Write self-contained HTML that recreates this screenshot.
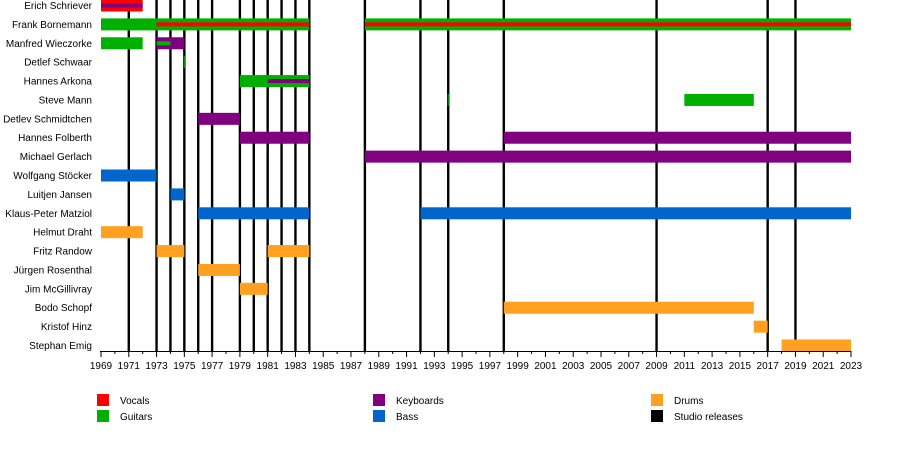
<!DOCTYPE html><html><head><meta charset="utf-8"><style>body{margin:0;background:#fff}svg{display:block;font-family:"Liberation Sans",sans-serif;font-size:10px}</style></head><body>
<svg width="900" height="450" xmlns="http://www.w3.org/2000/svg">
<g id="lines"></g>
<g id="bars"></g>
<g id="labels" text-anchor="end"></g>
<g id="axis"></g>
<g id="legend">
<rect x="97" y="394" width="12" height="12" fill="#ff0000"/><text x="120" y="404">Vocals</text>
<rect x="97" y="410" width="12" height="12" fill="#00b000"/><text x="120" y="420">Guitars</text>
<rect x="373" y="394" width="12" height="12" fill="#800080"/><text x="396" y="404">Keyboards</text>
<rect x="373" y="410" width="12" height="12" fill="#0066cc"/><text x="396" y="420">Bass</text>
<rect x="651" y="394" width="12" height="12" fill="#ffa020"/><text x="674" y="404">Drums</text>
<rect x="651" y="410" width="12" height="12" fill="#000"/><text x="674" y="420">Studio releases</text>
</g>
<script>
const NS="http://www.w3.org/2000/svg";
const X=y=>101+13.889*(y-1969);
function el(p,t,a,txt){const e=document.createElementNS(NS,t);for(const k in a)e.setAttribute(k,a[k]);if(txt)e.textContent=txt;document.getElementById(p).appendChild(e);}
[1971,1973,1974,1975,1976,1977,1979,1980,1981,1982,1983,1984,1988,1992,1994,1998,2009,2017,2019].forEach(y=>el("lines","rect",{x:X(y)-1.2,y:0,width:2.4,height:351,fill:"#000"}));
const C={v:"#ff0000",g:"#00b000",k:"#800080",b:"#0066cc",d:"#ffa020"};
const names=["Erich Schriever","Frank Bornemann","Manfred Wieczorke","Detlef Schwaar","Hannes Arkona","Steve Mann","Detlev Schmidtchen","Hannes Folberth","Michael Gerlach","Wolfgang Stöcker","Luitjen Jansen","Klaus-Peter Matziol","Helmut Draht","Fritz Randow","Jürgen Rosenthal","Jim McGillivray","Bodo Schopf","Kristof Hinz","Stephan Emig"];
const cy=i=>5.5+18.89*i;
names.forEach((n,i)=>el("labels","text",{x:92,y:cy(i)+3.5},n));
const bars=[[0,1969,1972,"v"],[1,1969,1984,"g"],[1,1988,2023,"g"],[2,1969,1972,"g"],[2,1973,1975,"k"],[4,1979,1984,"g"],[5,2011,2016,"g"],[6,1976,1979,"k"],[7,1979,1984,"k"],[7,1998,2023,"k"],[8,1988,2023,"k"],[9,1969,1973,"b"],[10,1974,1975,"b"],[11,1976,1984,"b"],[11,1992,2023,"b"],[12,1969,1972,"d"],[13,1973,1975,"d"],[13,1981,1984,"d"],[14,1976,1979,"d"],[15,1979,1981,"d"],[16,1998,2016,"d"],[17,2016,2017,"d"],[18,2018,2023,"d"]];
bars.forEach(([i,a,b,c])=>el("bars","rect",{x:X(a),y:cy(i)-6,width:X(b)-X(a),height:12,fill:C[c]}));
const inner=[[0,1969,1972,"k"],[1,1973,1984,"v"],[1,1988,2023,"v"],[2,1973,1974,"g"],[4,1981,1984,"k"]];
inner.forEach(([i,a,b,c])=>el("bars","rect",{x:X(a),y:cy(i)-2,width:X(b)-X(a),height:4,fill:C[c]}));
el("bars","rect",{x:X(1975)-0.5,y:cy(3)-6,width:1,height:12,fill:C.g});
el("bars","rect",{x:X(1994)-0.5,y:cy(5)-6,width:1,height:12,fill:C.g});
el("axis","rect",{x:100,y:351,width:751.5,height:1,fill:"#000"});
for(let y=1969;y<=2023;y++){const maj=(y-1969)%2==0;el("axis","rect",{x:X(y)-0.5,y:351,width:1,height:maj?6:3,fill:"#000"});if(maj)el("axis","text",{x:X(y),y:369,"text-anchor":"middle"},String(y));}
</script>
</svg></body></html>
